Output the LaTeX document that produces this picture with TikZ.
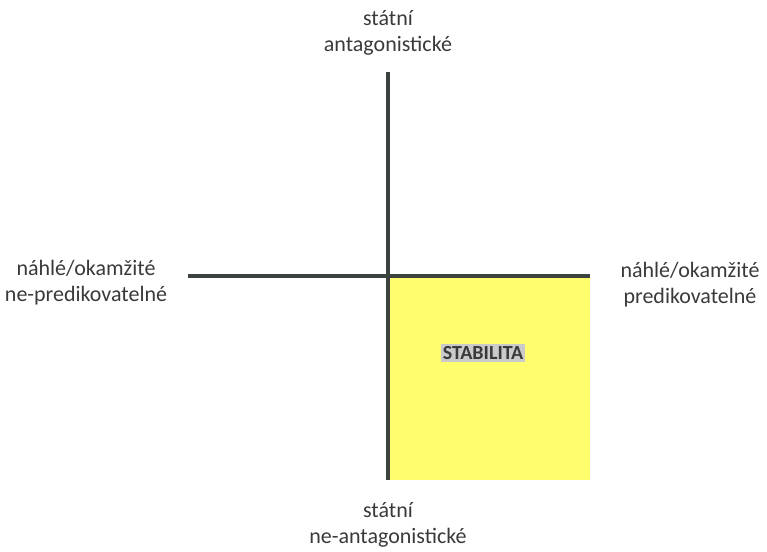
\documentclass[tikz,border=0pt]{standalone}
\usepackage{fontspec}
\setmainfont{Carlito}
\usepackage{xcolor}
\usepackage{tikz}
\usetikzlibrary{calc,positioning}
\definecolor{AxisInk}{HTML}{3C423D}
\definecolor{QuadYellow}{HTML}{FFFF6E}
\definecolor{TagGrey}{HTML}{CACACA}
\definecolor{LabelInk}{HTML}{3A3A3A}

\begin{document}
\begin{tikzpicture}[
  x=1pt,y=-1pt,
  lbl/.style={align=center,text=LabelInk,font=\fontsize{22}{26}\selectfont,inner sep=0pt},
  tag/.style={fill=TagGrey,text=LabelInk,font=\fontsize{20}{24}\selectfont\bfseries,inner sep=2pt},
  axis/.style={draw=AxisInk,line width=3.6pt}
]
\useasboundingbox (0,0) rectangle (767,551);
% quadrant
\fill[QuadYellow] (388,276) rectangle (590,480);
\coordinate (top) at (388,72);
\coordinate (bottom) at (388,480);
\coordinate (left) at (188,276);
\coordinate (right) at (590,276);
\draw[axis] (top) -- (bottom);
\draw[axis] (left) -- (right);
% labels
\node[lbl] (north) at (388,33) {státní\\antagonistické};
\node[lbl] (south) at (388,525) {státní\\ne-antagonistické};
\node[lbl] (west) at (86,283) {náhlé/okamžité\\ne-predikovatelné};
\node[lbl] (east) at (690,285) {náhlé/okamžité\\predikovatelné};
\node[tag] (stab) at (483,353) {STABILITA};
\end{tikzpicture}
\end{document}
